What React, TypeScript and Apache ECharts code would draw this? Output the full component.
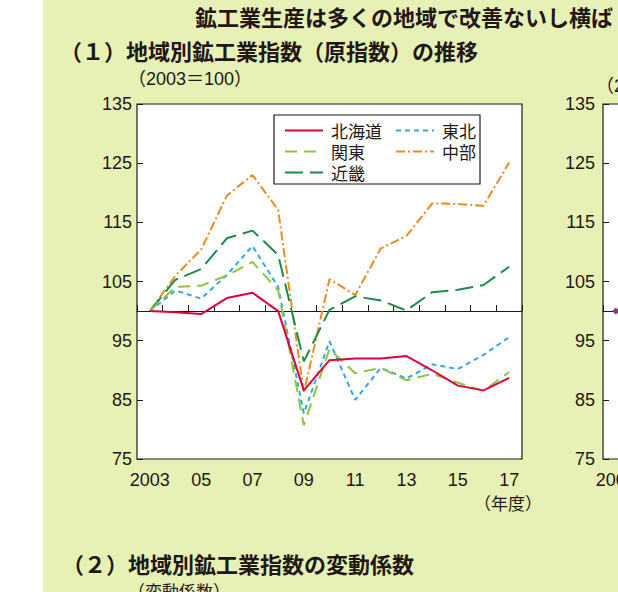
import { useEffect, useRef } from "react";
import * as echarts from "echarts";

const years = ["2003", "04", "05", "06", "07", "08", "09", "10", "11", "12", "13", "14", "15", "16", "17"];
const yTicks = [75, 85, 95, 105, 115, 125, 135];

const hokkaido = [100, 99.8, 99.5, 102.2, 103.1, 100.0, 86.6, 91.7, 92.0, 92.0, 92.4, 90.0, 87.4, 86.6, 88.7];
const kanto = [100, 104.1, 104.3, 106.0, 108.3, 103.5, 80.7, 93.6, 89.5, 90.4, 88.3, 89.4, 87.9, 86.5, 89.7];
const kinki = [100, 105.3, 107.1, 112.3, 113.6, 109.5, 91.5, 100.2, 102.5, 101.8, 100.1, 103.2, 103.6, 104.4, 107.5];
const tohoku = [100, 103.5, 102.1, 106.1, 111.0, 104.1, 82.7, 94.9, 85.0, 90.4, 88.6, 91.0, 90.2, 92.6, 95.6];
const chubu = [100, 106.0, 110.4, 119.5, 123.0, 117.1, 86.2, 105.4, 102.7, 110.6, 112.7, 118.2, 118.1, 117.8, 125.1];

// right-hand panel: only its first year is inside the picture
const rightA = [100];
const rightB = [100];

const INK = "#231815";
const FONT = "'Liberation Sans', 'Noto Sans CJK JP', sans-serif";
const JP = "'Noto Sans CJK JP', sans-serif";

const gridBox = { top: 104, height: 355, width: 385, show: true, backgroundColor: "#fff", borderColor: INK, borderWidth: 1.2 };

function yAxisFor(gridIndex: number, margin: number) {
  return {
    type: "value",
    gridIndex,
    min: 75,
    max: 135,
    axisLine: { show: false },
    splitLine: { show: false },
    axisTick: { show: true, inside: true, length: 6, customValues: yTicks, lineStyle: { color: INK, width: 1 } },
    axisLabel: { customValues: yTicks, fontSize: 18, color: INK, margin },
  };
}

function xAxesFor(gridIndex: number) {
  return [
    {
      type: "category",
      gridIndex,
      data: years,
      boundaryGap: true,
      position: "bottom",
      axisLine: { show: false },
      axisTick: { show: false },
      axisLabel: { interval: 1, fontSize: 18, color: INK, margin: 12 },
    },
    {
      // base line drawn at 100
      type: "category",
      gridIndex,
      data: years,
      boundaryGap: true,
      position: "bottom",
      offset: -148,
      axisLine: { show: true, lineStyle: { color: INK, width: 1.2 } },
      axisTick: { show: true, inside: true, length: 6, interval: 0, lineStyle: { color: INK, width: 1 } },
      axisLabel: { show: false },
    },
  ];
}

function line(name: string, data: number[], color: string, type: any) {
  return {
    name,
    type: "line",
    xAxisIndex: 0,
    yAxisIndex: 0,
    data,
    symbol: "none",
    lineStyle: { color, width: 2, type },
    itemStyle: { color },
  };
}

export default function App() {
  const hostRef = useRef<HTMLDivElement>(null);

  useEffect(() => {
    const el = hostRef.current;
    if (!el) return;
    const chart = echarts.init(el, undefined, { renderer: "svg" });

    const legendBase = {
      orient: "vertical",
      top: 117,
      itemWidth: 38,
      itemHeight: 12,
      itemGap: 4,
      selectedMode: false,
      itemStyle: { opacity: 0 },
      textStyle: { fontSize: 17, color: INK, fontFamily: JP, padding: [0, 0, 0, 3] },
    };

    chart.setOption({
      animation: false,
      textStyle: { fontFamily: FONT },
      grid: [
        { ...gridBox, left: 137 },
        { ...gridBox, left: 603 },
      ],
      xAxis: [...xAxesFor(0), ...xAxesFor(1)],
      yAxis: [yAxisFor(0, 5), yAxisFor(1, 8)],
      legend: [
        { ...legendBase, left: 279, data: ["北海道", "関東", "近畿"] },
        { ...legendBase, left: 390, data: ["東北", "中部"] },
      ],
      graphic: [
        {
          type: "rect",
          z: 3,
          shape: { x: 274, y: 115, width: 206, height: 69 },
          style: { fill: "#fff", stroke: INK, lineWidth: 1.2 },
        },
        {
          type: "text",
          x: 195,
          y: 16,
          style: { text: "鉱工業生産は多くの地域で改善ないし横ば", fontSize: 22, fontWeight: "bold", fontFamily: JP, fill: INK, verticalAlign: "middle" },
        },
        {
          type: "text",
          x: 60,
          y: 50,
          style: { text: "（１）地域別鉱工業指数（原指数）の推移", fontSize: 22, fontWeight: "bold", fontFamily: JP, fill: INK, verticalAlign: "middle" },
        },
        {
          type: "text",
          x: 128,
          y: 79,
          style: { text: "（2003＝100）", fontSize: 18, fontFamily: FONT, fill: INK, verticalAlign: "middle" },
        },
        {
          type: "text",
          x: 596,
          y: 86,
          style: { text: "（2003＝100）", fontSize: 18, fontFamily: FONT, fill: INK, verticalAlign: "middle" },
        },
        {
          type: "text",
          x: 508,
          y: 502,
          style: { text: "（年度）", fontSize: 17, fontFamily: JP, fill: INK, align: "center", verticalAlign: "middle" },
        },
        {
          type: "text",
          x: 62,
          y: 563,
          style: { text: "（２）地域別鉱工業指数の変動係数", fontSize: 22, fontWeight: "bold", fontFamily: JP, fill: INK, verticalAlign: "middle" },
        },
        {
          type: "text",
          x: 128,
          y: 590,
          style: { text: "（変動係数）", fontSize: 17, fontFamily: JP, fill: INK, verticalAlign: "middle" },
        },
      ],
      series: [
        line("中部", chubu, "#ef8a1c", [9, 3, 2, 3]),
        line("近畿", kinki, "#1a8c4e", [18, 7]),
        line("東北", tohoku, "#2ea9e1", [5, 4]),
        line("関東", kanto, "#8cc63f", [12, 7]),
        line("北海道", hokkaido, "#e2003c", "solid"),
        {
          type: "line",
          xAxisIndex: 2,
          yAxisIndex: 1,
          data: rightB,
          symbol: "circle",
          symbolSize: 5,
          itemStyle: { color: "#2ea9e1" },
        },
        {
          type: "line",
          xAxisIndex: 2,
          yAxisIndex: 1,
          data: rightA,
          symbol: "diamond",
          symbolSize: 7,
          itemStyle: { color: "#9b2f8a" },
        },
      ],
    });

    return () => chart.dispose();
  }, []);

  // the chart is wider than the picture: the right-hand panel runs past its edge
  return (
    <div style={{ position: "fixed", left: 0, top: 0, width: 618, height: 592, background: "#fff", overflow: "hidden" }}>
      <div style={{ position: "absolute", left: 43, top: 0, right: 0, bottom: 0, background: "#e7f1b5" }} />
      <div ref={hostRef} style={{ position: "absolute", left: 0, top: 0, width: 1000, height: 592 }} />
    </div>
  );
}
